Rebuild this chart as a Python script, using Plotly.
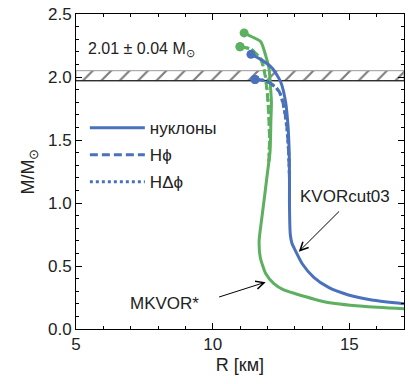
import plotly.graph_objects as go

# ---- data ----
# KVORcut03 (blue)
kvor_nuc_R = [11.40, 11.76, 12.18, 12.49, 12.67, 12.76, 12.80, 12.81, 12.81, 12.82, 12.84, 12.90, 13.03, 13.27, 13.70, 14.24, 14.97, 15.82, 17.0]
kvor_nuc_M = [2.18, 2.14, 2.07, 1.96, 1.80, 1.60, 1.40, 1.20, 1.00, 0.85, 0.75, 0.68, 0.62, 0.52, 0.41, 0.33, 0.27, 0.23, 0.20]
kvor_hphi_R = [11.55, 11.94, 12.31, 12.49, 12.62, 12.72, 12.78, 12.81, 12.81]
kvor_hphi_M = [1.98, 1.97, 1.92, 1.86, 1.75, 1.60, 1.40, 1.20, 1.00]
kvor_hdphi_R = [11.55, 11.94, 12.30, 12.48, 12.61, 12.71, 12.78, 12.81, 12.81]
kvor_hdphi_M = [1.98, 1.97, 1.92, 1.86, 1.75, 1.60, 1.40, 1.20, 1.00]

# MKVOR* (green)
mkvor_nuc_R = [11.15, 11.33, 11.76, 11.94, 12.06, 12.12, 12.15, 12.13, 12.10, 12.01, 11.88, 11.78, 11.70, 11.74, 11.94, 12.24, 12.60, 13.03, 14.12, 15.50, 17.0]
mkvor_nuc_M = [2.35, 2.33, 2.28, 2.17, 2.07, 1.91, 1.80, 1.65, 1.41, 1.25, 1.02, 0.85, 0.70, 0.57, 0.44, 0.36, 0.31, 0.28, 0.215, 0.18, 0.16]
mkvor_hphi_R = [11.00, 11.40, 11.76, 11.92, 12.00, 12.05, 12.08, 12.05]
mkvor_hphi_M = [2.24, 2.22, 2.14, 2.01, 1.86, 1.70, 1.50, 1.30]
mkvor_hdphi_R = [11.00, 11.41, 11.77, 11.93, 12.01, 12.06, 12.08, 12.05]
mkvor_hdphi_M = [2.24, 2.22, 2.14, 2.01, 1.86, 1.70, 1.50, 1.30]

# observed mass band 2.01 +/- 0.04
band_center = 2.01
band_err = 0.04
x_range = [5, 17]
y_range = [0, 2.5]

legend_labels = ["нуклоны", "Hϕ", "HΔϕ"]

BLUE = "#4a72bc"
GREEN = "#5cb05f"
FONT = "Liberation Sans, Arial, sans-serif"
TXT = "#222222"

fig = go.Figure()

# hatched band
lo, hi = band_center - band_err, band_center + band_err
fig.add_trace(go.Scatter(
    x=[x_range[0], x_range[1], x_range[1], x_range[0], x_range[0]],
    y=[lo, lo, hi, hi, lo],
    mode="lines", fill="toself",
    fillcolor="white",
    fillpattern=dict(shape="/", fgcolor="black", bgcolor="white", size=13, solidity=0.17),
    line=dict(color="#999999", width=1),
    showlegend=False, hoverinfo="skip"))
fig.add_trace(go.Scatter(x=x_range, y=[lo, lo], mode="lines",
                         line=dict(color="black", width=1),
                         showlegend=False, hoverinfo="skip"))

series = [
    (mkvor_nuc_R, mkvor_nuc_M, GREEN, "solid"),
    (mkvor_hphi_R, mkvor_hphi_M, GREEN, "dash"),
    (mkvor_hdphi_R, mkvor_hdphi_M, GREEN, "dot"),
    (kvor_nuc_R, kvor_nuc_M, BLUE, "solid"),
    (kvor_hphi_R, kvor_hphi_M, BLUE, "dash"),
    (kvor_hdphi_R, kvor_hdphi_M, BLUE, "dot"),
]
for R, M, c, d in series:
    fig.add_trace(go.Scatter(x=R, y=M, mode="lines",
                             line=dict(color=c, width=3, dash=("8px,4px" if d == "dash" else d),
                                       shape="spline", smoothing=0.6),
                             showlegend=False, hoverinfo="skip"))
for R, M, c, d in series:
    fig.add_trace(go.Scatter(x=[R[0]], y=[M[0]], mode="markers",
                             marker=dict(color=c, size=9),
                             showlegend=False, hoverinfo="skip"))

# legend entries
for lab, d in zip(legend_labels, ["solid", "8px,4px", "dot"]):
    fig.add_trace(go.Scatter(x=[None], y=[None], mode="lines", name=lab,
                             line=dict(color=BLUE, width=3, dash=d),
                             legendgroup=lab))

# annotations
fig.add_annotation(x=5.35, y=2.215, xref="x", yref="y", text="2.01 ± 0.04 M<sub>⊙</sub>",
                   showarrow=False, xanchor="left", yanchor="middle",
                   font=dict(family=FONT, size=16, color=TXT))
fig.add_annotation(x=14.85, y=1.055, text="KVORcut03", showarrow=False,
                   font=dict(family=FONT, size=17, color=TXT))
fig.add_annotation(x=13.15, y=0.614, ax=14.68, ay=0.945, axref="x", ayref="y",
                   text="", showarrow=True, arrowhead=5, arrowsize=1.6, arrowwidth=1,
                   arrowcolor="black")
fig.add_annotation(x=8.24, y=0.20, text="MKVOR*", showarrow=False,
                   font=dict(family=FONT, size=17, color=TXT))
fig.add_annotation(x=11.94, y=0.372, ax=10.18, ay=0.25, axref="x", ayref="y",
                   text="", showarrow=True, arrowhead=5, arrowsize=1.6, arrowwidth=1,
                   arrowcolor="black")

axis_common = dict(showline=True, linecolor="black", linewidth=1, mirror="allticks",
                   ticks="inside", ticklen=6, tickcolor="black", showgrid=False,
                   zeroline=False, tickfont=dict(family=FONT, size=17, color=TXT))
fig.update_xaxes(range=x_range, dtick=5, tick0=5,
                 minor=dict(dtick=1, ticks="inside", ticklen=3, tickcolor="black"),
                 title=dict(text="R [км]", font=dict(family=FONT, size=18, color=TXT), standoff=4),
                 **axis_common)
fig.update_yaxes(range=y_range, dtick=0.5, tickformat=".1f",
                 minor=dict(dtick=0.1, ticks="inside", ticklen=3, tickcolor="black"),
                 title=dict(text="M/M<sub>⊙</sub>", font=dict(family=FONT, size=18, color=TXT), standoff=8),
                 **axis_common)

fig.update_layout(
    width=410, height=384,
    margin=dict(l=76, r=5, t=11, b=55),
    plot_bgcolor="white", paper_bgcolor="white",
    showlegend=True,
    legend=dict(x=0.027, y=0.695, xanchor="left", yanchor="top",
                bgcolor="rgba(0,0,0,0)", tracegroupgap=2, itemwidth=55,
                font=dict(family=FONT, size=17, color=TXT)),
)

fig.write_html("out.html")
